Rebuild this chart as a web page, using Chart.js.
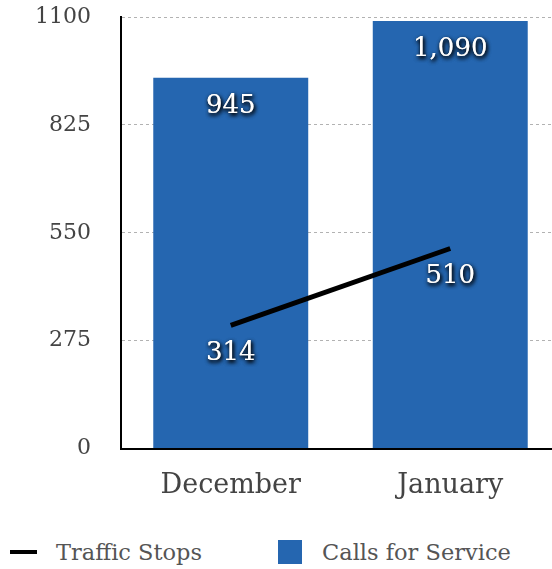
<!DOCTYPE html>
<html>
<head>
<meta charset="utf-8">
<script src="https://cdn.jsdelivr.net/npm/chart.js@4"></script>
<style>
    html, body { margin: 0; padding: 0; background: #fff; }
    #wrap { width: 552px; height: 569px; position: relative; overflow: hidden; }
    #chartBox { position: absolute; left: 0; top: 0; width: 560px; height: 515px; }
    .legend { position: absolute; top: 537px; left: 0; width: 552px; height: 30px; font-family: 'DejaVu Serif', Georgia, serif; font-size: 22.5px; color: #555; }
    .legend .item { position: absolute; top: 0; line-height: 30px; white-space: nowrap; }
    .legend .swatch { position: absolute; }
</style>
</head>
<body>
<div id="wrap">
    <div id="chartBox"><canvas id="chart"></canvas></div>
    <div class="legend" id="legend"></div>
</div>
<script>
// Data
const months = ['December', 'January'];
const callsForService = [945, 1090];
const trafficStops = [314, 510];
const yTicks = [0, 275, 550, 825, 1100];
const seriesNames = ['Traffic Stops', 'Calls for Service'];

const FONT = "'DejaVu Serif', Georgia, serif";
const BLUE = '#2566b0';

// Value labels: white text with a dark shadow, drawn under each point / bar top
const valueLabels = {
    id: 'valueLabels',
    afterDraw(chart) {
        const ctx = chart.ctx;
        ctx.save();
        ctx.font = `26px ${FONT}`;
        ctx.textAlign = 'center';
        ctx.textBaseline = 'middle';
        ctx.fillStyle = '#fff';
        ctx.shadowColor = 'rgba(0,0,0,1)';
        ctx.shadowBlur = 4;
        ctx.shadowOffsetX = 1;
        ctx.shadowOffsetY = 2;
        chart.data.datasets.forEach((ds, i) => {
            const meta = chart.getDatasetMeta(i);
            meta.data.forEach((el, j) => {
                const text = ds.data[j].toLocaleString('en-US');
                ctx.fillText(text, el.x, el.y + 28);
                ctx.fillText(text, el.x, el.y + 28);
            });
        });
        ctx.restore();
    }
};

new Chart(document.getElementById('chart'), {
    data: {
        labels: months,
        datasets: [
            {
                type: 'line',
                label: seriesNames[0],
                data: trafficStops,
                borderColor: '#000',
                borderWidth: 5,
                pointRadius: 0,
                order: 0
            },
            {
                type: 'bar',
                label: seriesNames[1],
                data: callsForService,
                backgroundColor: BLUE,
                borderWidth: 0,
                categoryPercentage: 0.706,
                barPercentage: 1,
                order: 1
            }
        ]
    },
    options: {
        responsive: true,
        maintainAspectRatio: false,
        animation: false,
        layout: { padding: { top: 17, right: 0, left: 0, bottom: 0 } },
        scales: {
            x: {
                grid: { display: false },
                border: { color: '#000', width: 2 },
                ticks: { color: '#444', font: { family: FONT, size: 27 }, padding: 13 }
            },
            y: {
                min: 0,
                max: 1100,
                z: 1,
                afterBuildTicks: (axis) => { axis.ticks = yTicks.map(v => ({ value: v })); },
                afterFit: (axis) => { axis.width = 121; },
                grid: { color: 'rgba(0,0,0,0.3)', drawTicks: true, tickLength: 30, tickColor: 'rgba(0,0,0,0)' },
                border: { color: '#000', width: 2, dash: [3, 3] },
                ticks: {
                    color: '#444',
                    font: { family: FONT, size: 22 },
                    padding: 0,
                    callback: (v) => String(v)
                }
            }
        },
        plugins: {
            legend: { display: false },
            tooltip: { enabled: false }
        }
    },
    plugins: [valueLabels]
});

// Legend
const legend = document.getElementById('legend');
legend.innerHTML = `
    <div class="swatch" style="left:10px;top:13px;width:27px;height:4px;background:#000"></div>
    <div class="item" style="left:56px">${seriesNames[0]}</div>
    <div class="swatch" style="left:278px;top:3px;width:24px;height:24px;background:${BLUE}"></div>
    <div class="item" style="left:322px">${seriesNames[1]}</div>
`;
</script>
</body>
</html>
